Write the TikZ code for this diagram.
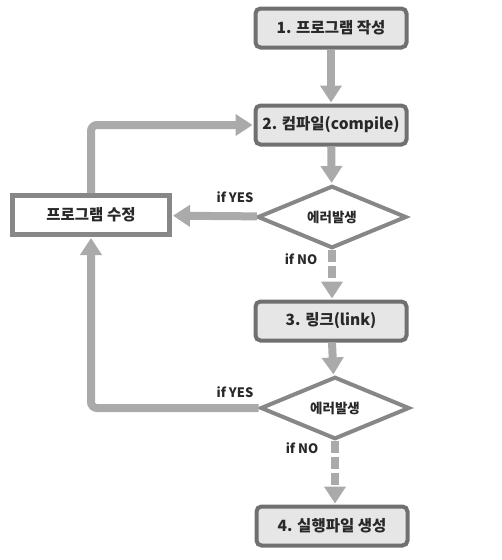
\documentclass[tikz,border=0pt]{standalone}
\usepackage{fontspec}
\setmainfont{Noto Sans CJK KR}
\usepackage{tikz}
\usetikzlibrary{
  shapes.geometric,
  arrows.meta,
  positioning
}
\definecolor{BoxGray}{RGB}{230, 230, 230}
\definecolor{EdgeGray}{RGB}{112, 112, 112}
\definecolor{EditGray}{RGB}{135, 135, 135}
\definecolor{ArrowGray}{RGB}{170, 170, 170}
\definecolor{TextGray}{RGB}{40, 40, 40}
\tikzset{
    procbox/.style={rectangle, fill=BoxGray, draw=EdgeGray, line width=4pt,
        rounded corners=5pt, minimum width=151pt, minimum height=39pt,
        text=TextGray, font=\fontsize{15.5}{18}\selectfont\bfseries},
    editbox/.style={rectangle, fill=white, draw=EditGray, line width=5pt,
        minimum width=157pt, minimum height=39pt,
        text=TextGray, font=\fontsize{15.5}{18}\selectfont\bfseries},
    decide/.style={diamond, fill=white, draw=EditGray, line width=4pt,
        minimum width=149pt, minimum height=56pt, inner sep=0pt,
        text=TextGray, font=\fontsize{13.5}{16}\selectfont\bfseries},
    flow/.style={draw=ArrowGray, line width=8pt,
        -{Triangle[width=21pt, length=17pt]}, shorten >=1pt},
    noflow/.style={flow, dash pattern=on 12pt off 4pt},
    cond/.style={text=TextGray, font=\fontsize{13}{15}\selectfont\bfseries}
}

\begin{document}
\begin{tikzpicture}[x=1pt, y=-1pt]
    \useasboundingbox (0,0) rectangle (502,560);

    \node[procbox] (write) at (331,28) {1. 프로그램 작성};
    \node[procbox] (compile) at (331,125) {2. 컴파일(compile)};
    \node[decide] (err1) at (332,217) {에러발생};
    \node[editbox] (edit) at (91,215) {프로그램 수정};
    \node[procbox] (link) at (331,321) {3. 링크(link)};
    \node[decide] (err2) at (335,408) {에러발생};
    \node[procbox] (run) at (332,526) {4. 실행파일 생성};

    \node[cond] (yes1) at (235,197) {if YES};
    \node[cond] (no1) at (301,259) {if NO};
    \node[cond] (yes2) at (235,392) {if YES};
    \node[cond] (no2) at (302,448) {if NO};

    \draw[flow] (write) -- (compile);
    \draw[flow] (compile) -- (err1);
    \draw[flow] (err1) -- (edit);
    \draw[flow, rounded corners=6pt] (edit.north) |- (compile.west);
    \draw[noflow] (err1.south) -- (err1.south |- link.north);
    \draw[flow] (link) -- (err2);
    \draw[flow, rounded corners=6pt] (err2.west) -| (edit.south);
    \draw[noflow] (err2.south) -- (err2.south |- run.north);
\end{tikzpicture}
\end{document}
